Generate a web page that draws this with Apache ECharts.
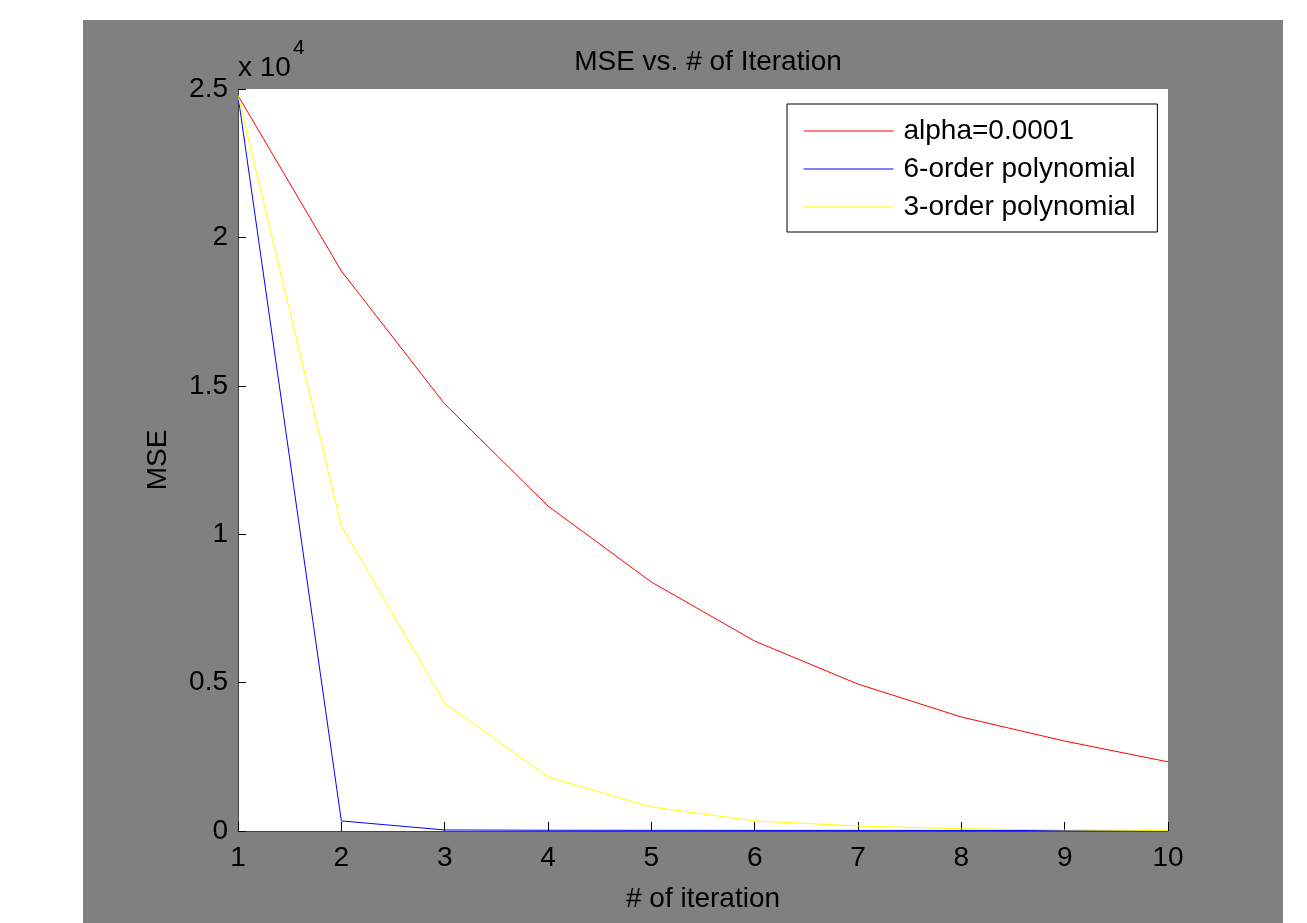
<!DOCTYPE html>
<html>
<head>
<meta charset="utf-8">
<script src="https://cdn.jsdelivr.net/npm/echarts@6/dist/echarts.min.js"></script>
<style>
html,body{margin:0;padding:0;background:#fff;width:1307px;height:923px;overflow:hidden;}
#c{position:absolute;left:83px;top:20px;width:1200px;height:903px;}
</style>
</head>
<body>
<div id="c"></div>
<script>
const iterations = [1, 2, 3, 4, 5, 6, 7, 8, 9, 10];
const seriesNames = ['alpha=0.0001', '6-order polynomial', '3-order polynomial'];
const alphaMSE = [24780, 18870, 14390, 10950, 8390, 6400, 4950, 3840, 3030, 2330];
const poly6MSE = [24780, 340, 35, 25, 22, 20, 20, 18, 18, 18];
const poly3MSE = [24780, 10280, 4310, 1820, 810, 340, 170, 75, 35, 15];
const yTicks = [0, 5000, 10000, 15000, 20000, 25000];

const FONT = 'Liberation Sans, Arial, sans-serif';
const FS = 28;
const pairs = arr => iterations.map((x, i) => [x, arr[i]]);

const chart = echarts.init(document.getElementById('c'), null, {renderer: 'canvas'});
chart.setOption({
  backgroundColor: '#808080',
  animation: false,
  title: {
    text: 'MSE vs. # of Iteration',
    left: 620, top: 23, textAlign: 'center',
    textStyle: {fontFamily: FONT, fontSize: FS, fontWeight: 'normal', color: '#000'}
  },
  grid: {
    left: 155, top: 69, width: 930, height: 742,
    show: true, backgroundColor: '#fff', borderWidth: 0
  },
  legend: {
    orient: 'vertical',
    left: 704, top: 84,
    padding: [13, 22, 11, 16],
    itemGap: 10,
    itemWidth: 90, itemHeight: 28,
    backgroundColor: '#fff',
    borderColor: '#000', borderWidth: 1,
    data: seriesNames,
    itemStyle: {opacity: 0},
    lineStyle: {width: 1},
    textStyle: {fontFamily: FONT, fontSize: FS, color: '#000', padding: [0, 0, 0, 5]}
  },
  xAxis: {
    type: 'value', min: 1, max: 10, interval: 1,
    name: '# of iteration', nameLocation: 'middle', nameGap: 54,
    nameTextStyle: {fontFamily: FONT, fontSize: FS, color: '#000'},
    axisLine: {show: true, lineStyle: {color: '#444', width: 1}},
    axisTick: {show: true, inside: true, length: 9, lineStyle: {color: '#000'}},
    axisLabel: {fontFamily: FONT, fontSize: FS, color: '#000', margin: 13},
    splitLine: {show: false}
  },
  yAxis: {
    type: 'value', min: 0, max: 25000, interval: 5000,
    name: 'MSE', nameLocation: 'middle', nameGap: 66, nameRotate: 90,
    nameTextStyle: {fontFamily: FONT, fontSize: FS, color: '#000'},
    axisLine: {show: true, lineStyle: {color: '#444', width: 1}},
    axisTick: {show: true, inside: true, length: 8, lineStyle: {color: '#000'}},
    axisLabel: {
      fontFamily: FONT, fontSize: FS, color: '#000', margin: 10,
      formatter: v => String(v / 10000)
    },
    splitLine: {show: false}
  },
  graphic: [
    {type: 'text', x: 155, y: 48,
     style: {text: 'x 10', fontFamily: FONT, fontSize: FS, fill: '#000', verticalAlign: 'middle', align: 'left'}},
    {type: 'text', x: 210, y: 28,
     style: {text: '4', fontFamily: FONT, fontSize: 21, fill: '#000', verticalAlign: 'middle', align: 'left'}}
  ],
  series: [
    {name: seriesNames[0], type: 'line', data: pairs(alphaMSE), symbol: 'none',
     lineStyle: {color: '#ff0000', width: 1}, itemStyle: {color: '#ff0000'}},
    {name: seriesNames[1], type: 'line', data: pairs(poly6MSE), symbol: 'none',
     lineStyle: {color: '#0000ff', width: 1}, itemStyle: {color: '#0000ff'}},
    {name: seriesNames[2], type: 'line', data: pairs(poly3MSE), symbol: 'none',
     lineStyle: {color: '#ffff00', width: 1}, itemStyle: {color: '#ffff00'}}
  ]
});
</script>
</body>
</html>
